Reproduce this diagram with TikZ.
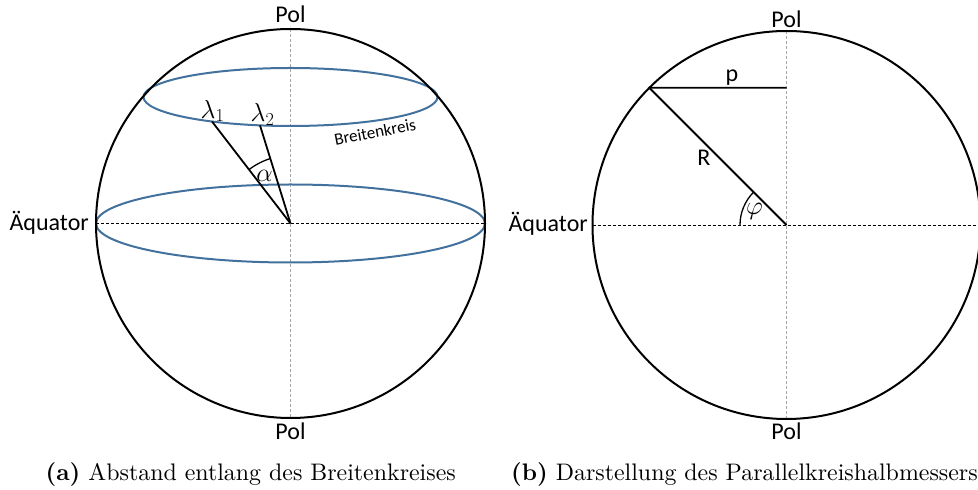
\RequirePackage{fix-cm}
\documentclass[tikz,border=0pt]{standalone}
\usepackage{fontspec}
\newfontfamily\labfont{Carlito}
\newfontfamily\capfont[Extension=.otf, BoldFont=lmroman10-bold]{lmroman10-regular}
\usetikzlibrary{angles,calc}
\definecolor{latblue}{RGB}{65,113,156}
\begin{document}
\begin{tikzpicture}[x=1pt,y=1pt,
  sphere/.style={draw=black, line width=2pt},
  latc/.style={draw=latblue, line width=2pt},
  axisx/.style={draw=black, line width=0.8pt, dash pattern=on 3pt off 2pt},
  axisy/.style={draw=gray!70, line width=1.3pt, dash pattern=on 3pt off 2pt},
  seg/.style={draw=black, line width=1.8pt},
  lbl/.style={font=\labfont\fontsize{24}{28}\selectfont, inner sep=0pt},
  smalllbl/.style={font=\labfont\fontsize{17}{20}\selectfont, inner sep=0pt},
  mlbl/.style={font=\fontsize{26}{30}\selectfont, inner sep=0pt},
  caplbl/.style={font=\capfont\fontsize{23.9}{28}\selectfont, inner sep=0pt, anchor=base west},
  angarc/.style={draw=black, line width=1.3pt}
]
\clip (0,0) rectangle (978,490);
\useasboundingbox (0,0) rectangle (978,490);

% ---------- left sphere ----------
\coordinate (C1) at (290.5,266.5);
\coordinate (N1) at (290.5,461);
\coordinate (S1) at (290.5,72);
\coordinate (W1) at (96,266.5);
\coordinate (E1) at (485,266.5);
\coordinate (B1) at (290.5,393);
\coordinate (L1) at (212,368.5);
\coordinate (L2) at (260,364.6);

\draw[axisy] (N1) -- (S1);
\draw[axisx] (W1) -- (E1);
\draw[latc] (C1) ellipse[x radius=194.5, y radius=39];
\draw[latc] (B1) ellipse[x radius=147, y radius=29];
\draw[sphere] (C1) circle[radius=194.5];
\draw[seg] (C1) -- (L1);
\draw[seg] (C1) -- (L2);
\pic[angarc, angle radius=68pt] {angle=L2--C1--L1};

\node[lbl, anchor=base] (polN1) at (290.5,467.3) {Pol};
\node[lbl, anchor=base] (polS1) at (290.5,50.5) {Pol};
\node[lbl, anchor=base east] (aeq1) at (89,259.3) {Äquator};
\node[mlbl] (lam1) at (212.5,379) {$\lambda_1$};
\node[mlbl] (lam2) at (262.5,375.5) {$\lambda_2$};
\node[mlbl] (alpha) at (264.5,314) {$\alpha$};
\node[smalllbl, rotate=11] (bk) at (375,358) {Breitenkreis};

% ---------- right sphere ----------
\coordinate (C2) at (786.5,265);
\coordinate (N2) at (786.5,459);
\coordinate (S2) at (786.5,71);
\coordinate (W2) at (592.5,265);
\coordinate (E2) at (985,265);
\coordinate (P2) at ($(C2)+(135:194)$);
\coordinate (Q2) at (786.5,402.2);

\draw[axisy] (N2) -- (S2);
\draw[axisx] (W2) -- (E2);
\draw[sphere] (C2) circle[radius=194];
\draw[seg] (P2) -- (Q2);
\draw[seg] (P2) -- (C2);
\pic[angarc, angle radius=46.5pt] {angle=P2--C2--W2};

\node[lbl, anchor=base] (polN2) at (786.5,462) {Pol};
\node[lbl, anchor=base] (polS2) at (786.5,50) {Pol};
\node[lbl, anchor=base east] (aeq2) at (588,258.3) {Äquator};
\node[lbl] (plab) at (732,412.5) {p};
\node[lbl] (Rlab) at (704,332.6) {R};
\node[mlbl] (philab) at (754.5,278.5) {$\varphi$};

% ---------- captions ----------
\node[caplbl] (capa) at (45.5,9) {\textbf{(a)} Abstand entlang des Breitenkreises};
\node[caplbl] (capb) at (511,9) {\textbf{(b)} Darstellung des Parallelkreishalbmessers};
\end{tikzpicture}
\end{document}
